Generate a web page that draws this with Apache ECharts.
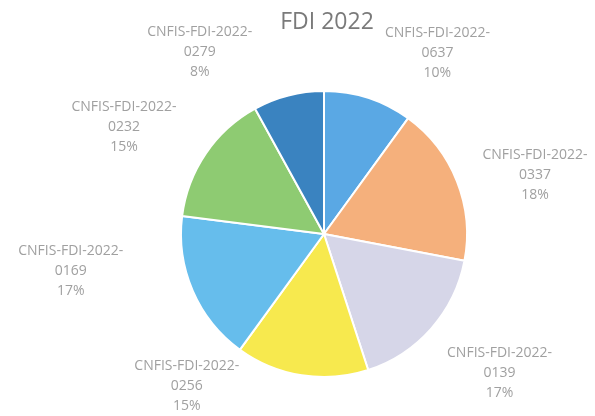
<!DOCTYPE html>
<html>
<head>
<meta charset="utf-8">
<script src="https://cdn.jsdelivr.net/npm/echarts@6/dist/echarts.min.js"></script>
<style>
  html, body { margin: 0; padding: 0; background: #fff; }
  #chart { width: 595px; height: 416px; }
</style>
</head>
<body>
<div id="chart"></div>
<script>
// slices, clockwise from 12 o'clock
const codes = ['0637', '0337', '0139', '0256', '0169', '0232', '0279'];
const shares = [10, 18, 17, 15, 17, 15, 8];
const colors = ['#5aa8e4', '#f5b07c', '#d6d6e8', '#f7e94e', '#66bdec', '#8ecb72', '#3a83c0'];

// where Excel left each label: turn from the slice middle (deg) and distance from centre
const labelTurn = [-14, -6, 3, -33, -15, 6, 20];
const labelDist = [214, 219, 224, 205, 256, 227, 220];

const CX = 324, CY = 234, R = 143;

const total = shares.reduce((a, b) => a + b, 0);
let acc = 0;
const midAngles = shares.map(v => {
    const mid = 90 - (acc + v / 2) / total * 360;
    acc += v;
    return mid;
});

const chart = echarts.init(document.getElementById('chart'));
chart.setOption({
    animation: false,
    title: {
        text: 'FDI 2022',
        left: 322,
        top: 6,
        textAlign: 'center',
        textStyle: { fontFamily: 'Open Sans', fontSize: 23, fontWeight: 'normal', color: '#7a7a7a' }
    },
    series: [{
        type: 'pie',
        center: [CX, CY],
        radius: R,
        startAngle: 90,
        clockwise: true,
        itemStyle: { borderColor: '#fff', borderWidth: 2 },
        label: {
            show: true,
            position: 'outside',
            alignTo: 'none',
            overflow: 'none',
            fontFamily: 'Open Sans',
            fontSize: 14,
            lineHeight: 20,
            color: '#a0a0a0',
            align: 'center',
            formatter: p => 'CNFIS-FDI-2022-\n' + codes[p.dataIndex] + '\n' + p.value + '%'
        },
        labelLine: { show: false },
        labelLayout: p => {
            const i = p.dataIndex;
            const a = (midAngles[i] + labelTurn[i]) * Math.PI / 180;
            return {
                x: CX + labelDist[i] * Math.cos(a),
                y: CY - labelDist[i] * Math.sin(a),
                align: 'center',
                verticalAlign: 'middle'
            };
        },
        data: codes.map((c, i) => ({
            name: 'CNFIS-FDI-2022-' + c,
            value: shares[i],
            itemStyle: { color: colors[i] }
        }))
    }]
});
</script>
</body>
</html>
